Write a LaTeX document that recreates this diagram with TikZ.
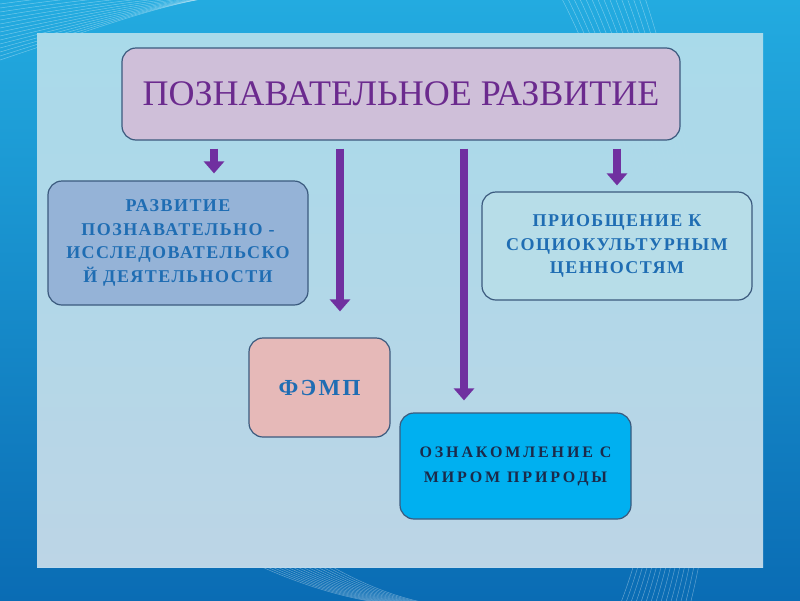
\documentclass[tikz,border=0pt]{standalone}
\usepackage{fontspec}
\setmainfont{Liberation Serif}
\usetikzlibrary{arrows.meta,calc}
\definecolor{bgtop}{HTML}{23ABE0}
\definecolor{bgbot}{HTML}{0A6CB4}
\definecolor{paneltop}{HTML}{B0E3F4}
\definecolor{panelbot}{HTML}{C4DEF0}
\definecolor{boxline}{HTML}{3B5A7E}
\definecolor{titlefill}{HTML}{CFBFD9}
\definecolor{titletext}{HTML}{6B2A8E}
\definecolor{leftfill}{HTML}{95B3D7}
\definecolor{rightfill}{HTML}{B7DDE8}
\definecolor{femfill}{HTML}{E6B9B8}
\definecolor{botfill}{HTML}{00B0F0}
\definecolor{bluetext}{HTML}{1F6DB3}
\definecolor{navytext}{HTML}{1B2A4A}
\definecolor{arrowfill}{HTML}{7030A0}
\tikzset{
  box/.style={draw=boxline, line width=1.2pt, rounded corners=14pt, align=center, inner sep=0pt},
  btext/.style={font=\fontsize{18}{23.7}\selectfont\bfseries\addfontfeatures{LetterSpace=8}, text=bluetext},
  arr/.style={draw=arrowfill, line width=8pt, -{Triangle[width=20pt,length=12pt]}},
  wline/.style={draw=white, opacity=0.35, line width=0.5pt}
}
\begin{document}
\begin{tikzpicture}[x=1pt,y=-1pt]
\useasboundingbox (0,0) rectangle (800,600);
\shade[top color=bgtop, bottom color=bgbot] (0,0) rectangle (800,600);
% decorative white curves
\foreach \i in {0,...,14} {
  \draw[wline] (0,{60-4*\i}) .. controls ({120+5*\i},{20-3*\i}) and ({200+4*\i},-10) .. ({260+3*\i},-5);
  \draw[wline] ({560+6*\i},-5) .. controls ({640+4*\i},150) and ({700+3*\i},400) .. ({620+5*\i},605);
  \draw[wline] ({60+8*\i},430) .. controls ({200+6*\i},560) and ({330+4*\i},600) .. ({400+3*\i},605);
}
% panel
\fill[top color=paneltop, bottom color=panelbot, opacity=0.96] (37,33) rectangle (763,567);
% nodes
\node[box, fill=titlefill, minimum width=558pt, minimum height=92pt,
  font=\fontsize{36}{36}\selectfont, text=titletext] (title) at (401,94) {ПОЗНАВАТЕЛЬНОЕ РАЗВИТИЕ};
\node[box, fill=leftfill, minimum width=260pt, minimum height=124pt, btext] (lbox) at (178,243)
  {РАЗВИТИЕ\\ПОЗНАВАТЕЛЬНО -\\ИССЛЕДОВАТЕЛЬСКО\\Й ДЕЯТЕЛЬНОСТИ};
\node[box, fill=rightfill, minimum width=270pt, minimum height=108pt, btext] (rbox) at (617,246)
  {ПРИОБЩЕНИЕ К\\СОЦИОКУЛЬТУРНЫМ\\ЦЕННОСТЯМ};
\node[box, fill=femfill, minimum width=141pt, minimum height=99pt,
  font=\fontsize{23}{23}\selectfont\bfseries\addfontfeatures{LetterSpace=10}, text=bluetext] (femp) at (319.5,387.5) {ФЭМП};
\node[box, fill=botfill, minimum width=231pt, minimum height=106pt,
  font=\fontsize{16}{25}\selectfont\bfseries\addfontfeatures{LetterSpace=18}, text=navytext] (nature) at (515.5,466)
  {ОЗНАКОМЛЕНИЕ С\\МИРОМ ПРИРОДЫ};
% arrows
\coordinate (a1) at (214,0);
\coordinate (a2) at (340,0);
\coordinate (a3) at (464,0);
\coordinate (a4) at (617,0);
\draw[arr] ([yshift=-8pt]title.south -| a1) -- ([yshift=7pt]lbox.north -| a1);
\draw[arr] ([yshift=-8pt]title.south -| a2) -- ([yshift=26pt]femp.north -| a2);
\draw[arr] ([yshift=-8pt]title.south -| a3) -- ([yshift=12pt]nature.north -| a3);
\draw[arr] ([yshift=-8pt]title.south -| a4) -- ([yshift=6pt]rbox.north -| a4);
\end{tikzpicture}
\end{document}
